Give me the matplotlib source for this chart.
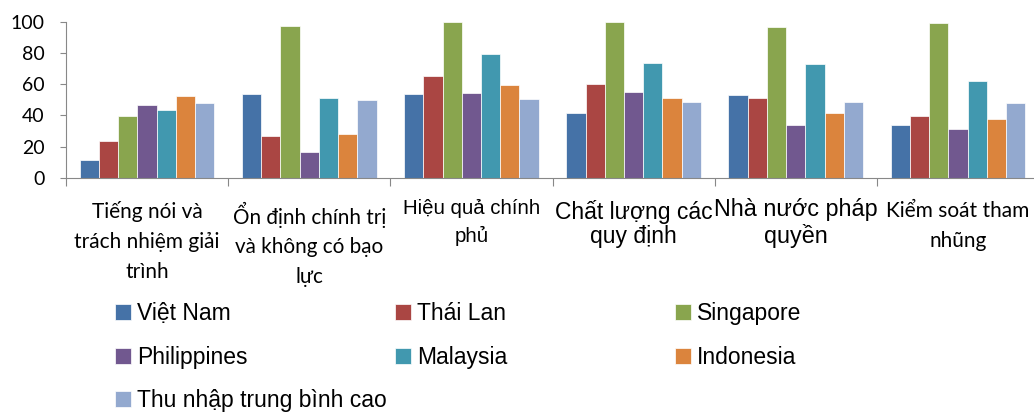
import matplotlib.pyplot as plt
import numpy as np

# Indicator categories (x axis)
categories = ['Tiếng nói và\ntrách nhiệm giải\ntrình',
              'Ổn định chính trị\nvà không có bạo\nlực',
              'Hiệu quả chính\nphủ',
              'Chất lượng các\nquy định',
              'Nhà nước pháp\nquyền',
              'Kiểm soát tham\nnhũng']

series_names = ['Việt Nam', 'Thái Lan', 'Singapore', 'Philippines',
                'Malaysia', 'Indonesia', 'Thu nhập trung bình cao']

viet_nam = [11.5, 53.6, 53.6, 41.5, 53.2, 34.0]
thai_lan = [23.8, 26.6, 65.5, 60.4, 51.5, 39.4]
singapore = [39.4, 97.4, 100, 100, 96.4, 99.4]
philippines = [47.0, 16.4, 54.7, 55.1, 33.8, 31.1]
malaysia = [43.2, 50.9, 79.1, 73.4, 72.8, 62.3]
indonesia = [52.6, 27.9, 59.8, 51.3, 41.9, 37.9]
thu_nhap_tbc = [48.3, 49.8, 50.6, 48.9, 48.5, 48.1]

values = [viet_nam, thai_lan, singapore, philippines, malaysia, indonesia, thu_nhap_tbc]
colors = ['#4572A7', '#AA4643', '#89A54E', '#71588F', '#4198AF', '#DB843D', '#93A9CF']

plt.rcParams['font.family'] = ['Lato', 'DejaVu Sans']

fig = plt.figure(figsize=(10.34, 4.15), dpi=100)
ax = fig.add_axes([66/1034, 237/415, 973/1034, 156.3/415])

x = np.arange(len(categories))
n = len(values)
bw = 0.83 / n
bars = []
for i, (vals, c, name) in enumerate(zip(values, colors, series_names)):
    b = ax.bar(x - 0.415 + bw * (i + 0.5), vals, width=bw, color=c,
               edgecolor='white', linewidth=0.5, label=name)
    bars.append(b)

ax.set_xlim(-0.5, len(categories) - 0.5)
ax.set_ylim(0, 100)
ax.set_yticks([0, 20, 40, 60, 80, 100])
ax.tick_params(axis='y', labelsize=14, length=4.5, color='#888888', pad=11)
ax.set_xticks(np.arange(len(categories) + 1) - 0.5)
ax.set_xticklabels([])
ax.tick_params(axis='x', length=6, color='#888888')
for s in ['top', 'right']:
    ax.spines[s].set_visible(False)
for s in ['left', 'bottom']:
    ax.spines[s].set_color('#888888')

# the source mixes a narrow font and an Arial-like one in the category labels
lab_fonts = [('Lato', 15, 1.6, -15), ('Lato', 14.9, 1.6, -15),
             ('Liberation Sans', 14.7, 1.5, -13.5),
             ('Liberation Sans', 16.5, 1.08, -13.8), ('Liberation Sans', 16.8, 1.15, -13),
             ('Lato', 15, 1.6, -15)]
for xi, lab, (fam, fs, lsp, yy) in zip(x, categories, lab_fonts):
    ax.text(xi, yy, lab, ha='center', va='top', fontsize=fs, family=[fam, 'DejaVu Sans'],
            linespacing=lsp, clip_on=False)

# legend laid out row by row in three columns
cols = [[0, 3, 6], [1, 4], [2, 5]]
col_x = [115, 395, 675]
for idx, cx in zip(cols, col_x):
    leg = fig.legend([bars[i] for i in idx], [series_names[i] for i in idx],
                     loc='upper left', bbox_to_anchor=(cx/1034, 1 - 302/415),
                     frameon=False, prop={'family': 'Liberation Sans', 'size': 16.5},
                     handlelength=0.7, handleheight=0.7, handletextpad=0.25,
                     labelspacing=0.9, borderaxespad=0, borderpad=0)

fig.savefig('out.png', dpi=100)
